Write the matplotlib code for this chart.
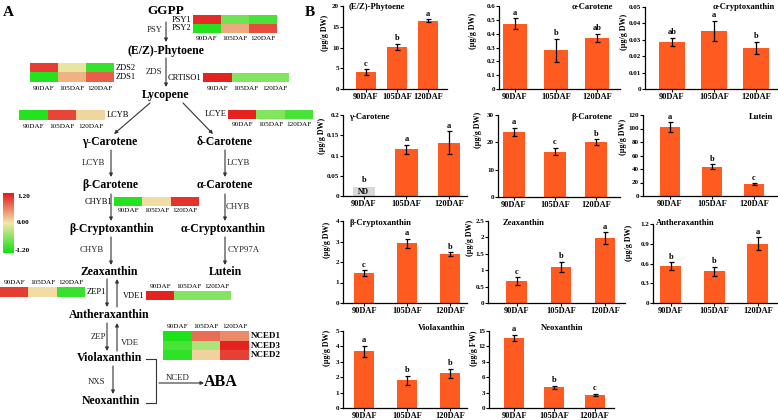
import numpy as np
import matplotlib
matplotlib.use('Agg')
import matplotlib.pyplot as plt
from matplotlib.colors import LinearSegmentedColormap
from matplotlib.ticker import FuncFormatter

plt.rcParams['font.family'] = ['Liberation Serif', 'DejaVu Serif']

W, H = 778, 420

# ------------------------------------------------------------------ data
stages = ['90DAF', '105DAF', '120DAF']

phytoene_mean = [4.0, 10.1, 16.5]
phytoene_err = [0.7, 0.8, 0.3]
phytoene_sig = ['c', 'b', 'a']

acarotene_mean = [0.472, 0.28, 0.37]
acarotene_err = [0.04, 0.085, 0.03]
acarotene_sig = ['a', 'b', 'ab']

acrypto_mean = [0.0287, 0.0354, 0.0252]
acrypto_err = [0.0027, 0.006, 0.0037]
acrypto_sig = ['ab', 'a', 'b']

gcarotene_mean = [0.0, 0.115, 0.132]
gcarotene_err = [0.0, 0.012, 0.028]
gcarotene_sig = ['b', 'a', 'a']
gcarotene_nd = [True, False, False]
nd_level = 0.022

bcarotene_mean = [23.8, 16.6, 20.1]
bcarotene_err = [1.6, 1.3, 1.0]
bcarotene_sig = ['a', 'c', 'b']

lutein_mean = [102.0, 43.0, 17.5]
lutein_err = [7.0, 3.7, 1.2]
lutein_sig = ['a', 'b', 'c']

bcrypto_mean = [1.45, 2.91, 2.37]
bcrypto_err = [0.15, 0.23, 0.1]
bcrypto_sig = ['c', 'a', 'b']

zeax_mean = [0.67, 1.1, 1.98]
zeax_err = [0.11, 0.15, 0.17]
zeax_sig = ['c', 'b', 'a']

anthera_mean = [0.56, 0.48, 0.9]
anthera_err = [0.06, 0.07, 0.1]
anthera_sig = ['b', 'b', 'a']

viola_mean = [3.67, 1.8, 2.25]
viola_err = [0.38, 0.28, 0.28]
viola_sig = ['a', 'b', 'b']

neo_mean = [13.6, 4.0, 2.5]
neo_err = [0.6, 0.35, 0.2]
neo_sig = ['a', 'b', 'c']

# heatmap expression values (z-scores, -1.2 .. 1.2)
heat_stages = ['90DAF', '105DAF', '120DAF']
psy_genes = ['PSY1', 'PSY2']
psy_vals = [[1.1, -0.7, -0.9], [-1.1, 0.35, 0.9]]
zds_genes = ['ZDS2', 'ZDS1']
zds_vals = [[1.0, -0.05, -1.0], [-1.1, 0.3, 0.8]]
crtiso_genes = ['CRTISO1']
crtiso_vals = [[1.15, -0.6, -0.6]]
lcyb_genes = ['LCYB']
lcyb_vals = [[-1.1, 0.95, 0.1]]
lcye_genes = ['LCYE']
lcye_vals = [[1.15, -0.6, -0.9]]
chyb1_genes = ['CHYB1']
chyb1_vals = [[-1.1, 0.05, 1.05]]
zep1_genes = ['ZEP1']
zep1_vals = [[1.0, 0.05, -1.0]]
vde1_genes = ['VDE1']
vde1_vals = [[1.15, -0.6, -0.6]]
nced_genes = ['NCED1', 'NCED3', 'NCED2']
nced_vals = [[-1.15, 0.72, 0.55], [-0.9, -0.38, 1.15], [-1.05, 0.12, 0.98]]

cbar_ticks = [1.2, 0.0, -1.2]

# ------------------------------------------------------------------ styles
BAR = '#ff5a1f'
ND_COL = '#d9d9d9'
cmap = LinearSegmentedColormap.from_list(
    'gyr', ['#14e214', '#f2e6aa', '#e41c1c'])
SERIF = ['Liberation Serif', 'DejaVu Serif']

fig = plt.figure(figsize=(W / 100, H / 100), dpi=100)

# ------------------------------------------------------------------ panel A (pixel coordinates)
ax0 = fig.add_axes([0, 0, 1, 1])
ax0.set_axis_off()


def txt(x, y, s, size=8.5, weight='bold', ha='center', va='center', color='black'):
    ax0.text(x, y, s, fontsize=size, fontweight=weight, ha=ha, va=va, color=color,
             family=SERIF)


def arrow(x0, y0, x1, y1):
    ax0.annotate('', xy=(x1, y1), xytext=(x0, y0),
                 arrowprops=dict(arrowstyle='-|>', color='#333333', lw=0.8,
                                 mutation_scale=5, shrinkA=0, shrinkB=0))


def heat(vals, genes, x0, x1, y0, y1, gene_side, daf_y, gene_bold=False, gene_size=6):
    v = np.array(vals)
    ax0.imshow(v, cmap=cmap, vmin=-1.2, vmax=1.2, extent=(x0, x1, y1, y0),
               aspect='auto', interpolation='nearest', zorder=2)
    nr, nc = v.shape
    rh = (y1 - y0) / nr
    cw = (x1 - x0) / nc
    for i, g in enumerate(genes):
        yy = y0 + rh * (i + 0.5)
        if gene_side == 'left':
            txt(x0 - 1.5, yy, g, size=gene_size, weight='bold' if gene_bold else 'normal', ha='right')
        else:
            txt(x1 + 1.5, yy, g, size=gene_size, weight='bold' if gene_bold else 'normal', ha='left')
    for j, s in enumerate(heat_stages):
        txt(x0 + cw * (j + 0.5), daf_y, s, size=5.2, weight='normal')


txt(3, 12, 'A', size=11, ha='left')
txt(305, 12, 'B', size=11, ha='left')

# compounds
txt(166, 11, 'GGPP', size=9.5)
txt(166, 51, '(E/Z)-Phytoene')
txt(166, 95, 'Lycopene')
txt(110, 142, 'γ-Carotene')
txt(225, 142, 'δ-Carotene')
txt(110, 185, 'β-Carotene')
txt(225, 185, 'α-Carotene')
txt(112, 229, 'β-Cryptoxanthin')
txt(223, 229, 'α-Cryptoxanthin')
txt(109, 272, 'Zeaxanthin')
txt(225, 272, 'Lutein')
txt(109, 315, 'Antheraxanthin')
txt(110, 358, 'Violaxanthin')
txt(111, 401, 'Neoxanthin')
txt(221, 382, 'ABA', size=11.5)

# enzymes
en = dict(size=6.3, weight='normal', color='#222222')
txt(155, 30, 'PSY', **en)
txt(154, 72, 'ZDS', **en)
txt(93, 163, 'LCYB', **en)
txt(238, 163, 'LCYB', **en)
txt(92, 250, 'CHYB', **en)
txt(238, 207, 'CHYB', **en)
txt(244, 250, 'CYP97A', **en)
txt(98, 337, 'ZEP', **en)
txt(130, 343, 'VDE', **en)
txt(96, 382, 'NXS', **en)
txt(178, 378, 'NCED', **en)

# arrows
arrow(166, 22, 166, 42)
arrow(166, 58, 166, 87)
arrow(150, 103, 114, 134)
arrow(183, 103, 213, 134)
arrow(111, 150, 111, 177)
arrow(225, 150, 225, 177)
arrow(111, 194, 111, 221)
arrow(225, 194, 225, 221)
arrow(111, 237, 111, 265)
arrow(225, 237, 225, 265)
arrow(107, 279, 107, 307)
arrow(117, 307, 117, 279)
arrow(107, 323, 107, 351)
arrow(117, 351, 117, 323)
arrow(113, 366, 113, 394)
ax0.plot([146, 156, 156, 146], [359, 359, 403, 403], color='#333333', lw=0.8)
arrow(159, 383, 204, 383)

# heatmaps
heat(psy_vals, psy_genes, 193, 277, 15, 33, 'left', 39)
heat(zds_vals, zds_genes, 30, 114, 63, 82, 'right', 89)
heat(crtiso_vals, crtiso_genes, 203, 289, 73, 82, 'left', 88)
heat(lcyb_vals, lcyb_genes, 19, 105, 110, 120, 'right', 127)
heat(lcye_vals, lcye_genes, 228, 313, 110, 119, 'left', 124)
heat(chyb1_vals, chyb1_genes, 114, 199, 197, 206, 'left', 211)
heat(zep1_vals, zep1_genes, 0, 85, 287, 297, 'right', 283)
heat(vde1_vals, vde1_genes, 146, 231, 291, 300, 'left', 286)
heat(nced_vals, nced_genes, 163, 249, 331, 360, 'right', 327, gene_bold=True, gene_size=6.5)

# colour bar
grad = np.linspace(1.2, -1.2, 100).reshape(-1, 1)
ax0.imshow(grad, cmap=cmap, vmin=-1.2, vmax=1.2, extent=(3, 14, 253, 193),
           aspect='auto', zorder=2)
for t in cbar_ticks:
    yy = 193 + (1.2 - t) / 2.4 * 60
    txt(17 if t >= 0 else 15, yy + (3 if t == 1.2 else (-2 if t == -1.2 else 0)),
        '%.2f' % t, size=5.2, ha='left')

ax0.set_xlim(0, W)
ax0.set_ylim(H, 0)


# ------------------------------------------------------------------ panel B
def bar_panel(rect, mean, err, sig, ylim, yticks, xlim, width, title, title_xy,
              title_ha, ylabel, ylabel_xy, nd=None):
    l, t, r, b = rect
    ax = fig.add_axes([l / W, 1 - b / H, (r - l) / W, (b - t) / H])
    ax.set_facecolor('none')
    x = np.arange(len(stages))
    mean = np.array(mean, float)
    err = np.array(err, float)
    nd = np.array(nd if nd is not None else [False] * len(stages))
    heights = np.where(nd, nd_level, mean)
    colors = [ND_COL if n else BAR for n in nd]
    ax.bar(x, heights, width, color=colors, edgecolor='none', zorder=2)
    ok = ~nd
    ax.errorbar(x[ok], mean[ok], yerr=err[ok], fmt='none', ecolor='black',
                elinewidth=0.9, capsize=1.8, capthick=0.9, zorder=3)
    for i in range(len(stages)):
        top = nd_level if nd[i] else mean[i] + err[i]
        ax.annotate(sig[i], (x[i], top), xytext=(0, 2.2 if nd[i] else 1.2),
                    textcoords='offset points', ha='center', va='bottom',
                    fontsize=6, fontweight='bold', family=SERIF)
        if nd[i]:
            ax.text(x[i], nd_level / 2, 'ND', ha='center', va='center',
                    fontsize=5.5, fontweight='bold', family=SERIF)
    ax.set_xlim(*xlim)
    ax.set_ylim(*ylim)
    ax.set_yticks(yticks)
    ax.yaxis.set_major_formatter(FuncFormatter(lambda v, p: '%g' % v))
    ax.set_xticks(x)
    ax.set_xticklabels(stages)
    for s in ['top', 'right']:
        ax.spines[s].set_visible(False)
    for s in ['left', 'bottom']:
        ax.spines[s].set_linewidth(0.9)
    ax.tick_params(axis='both', direction='out', length=2.0, width=0.8)
    ax.tick_params(axis='y', labelsize=5.0, pad=0.8)
    ax.tick_params(axis='x', labelsize=6.0, pad=1.2)
    for lab in ax.get_xticklabels() + ax.get_yticklabels():
        lab.set_fontweight('bold')
        lab.set_family(SERIF)
    fig.text(title_xy[0] / W, 1 - title_xy[1] / H, title, ha=title_ha, va='center',
             fontsize=6.2, fontweight='bold', family=SERIF)
    fig.text(ylabel_xy[0] / W, 1 - ylabel_xy[1] / H, ylabel, ha='center', va='center',
             rotation=90, fontsize=5.8, fontweight='bold', family=SERIF)
    return ax


DW = '(μg/g DW)'
FW = '(μg/g FW)'

bar_panel((343, 6, 447, 89), phytoene_mean, phytoene_err, phytoene_sig, (0, 20),
          [0, 5, 10, 15, 20], (-0.74, 2.61), 0.64, '(E/Z)-Phytoene', (349, 7), 'left',
          DW, (325, 33))
bar_panel((499, 6, 620, 89), acarotene_mean, acarotene_err, acarotene_sig, (0, 0.6),
          [0, 0.1, 0.2, 0.3, 0.4, 0.5, 0.6], (-0.39, 2.56), 0.6, 'α-Carotene', (613, 7),
          'right', DW, (473, 31))
bar_panel((645, 7, 777, 89), acrypto_mean, acrypto_err, acrypto_sig, (0, 0.05),
          [0, 0.01, 0.02, 0.03, 0.04, 0.05], (-0.64, 2.5), 0.6, 'α-Cryptoxanthin',
          (775, 7), 'right', DW, (624, 32))

bar_panel((343, 115, 467, 196), gcarotene_mean, gcarotene_err, gcarotene_sig, (0, 0.2),
          [0, 0.05, 0.1, 0.15, 0.2], (-0.49, 2.42), 0.52, 'γ-Carotene', (349, 117), 'left',
          DW, (322, 136), nd=gcarotene_nd)
bar_panel((498, 115, 620, 197), bcarotene_mean, bcarotene_err, bcarotene_sig, (0, 30),
          [0, 10, 20, 30], (-0.39, 2.59), 0.54, 'β-Carotene', (612, 117), 'right',
          DW, (478, 130))
bar_panel((643, 115, 777, 196), lutein_mean, lutein_err, lutein_sig, (0, 120),
          [0, 20, 40, 60, 80, 100, 120], (-0.64, 2.55), 0.48, 'Lutein', (773, 117),
          'right', DW, (623, 137))

bar_panel((343, 221, 467, 303), bcrypto_mean, bcrypto_err, bcrypto_sig, (0, 4),
          [0, 1, 2, 3, 4], (-0.49, 2.4), 0.48, 'β-Cryptoxanthin', (350, 223), 'left',
          DW, (327, 240))
bar_panel((488, 221, 625, 303), zeax_mean, zeax_err, zeax_sig, (0, 2.5),
          [0, 0.5, 1, 1.5, 2, 2.5], (-0.65, 2.45), 0.47, 'Zeaxanthin', (503, 223), 'left',
          DW, (470, 238))
bar_panel((653, 224, 777, 303), anthera_mean, anthera_err, anthera_sig, (0, 1.2),
          [0, 0.3, 0.6, 0.9, 1.2], (-0.41, 2.44), 0.48, 'Antheraxanthin', (656, 223),
          'left', DW, (629, 243))

bar_panel((343, 331, 467, 408), viola_mean, viola_err, viola_sig, (0, 5),
          [0, 1, 2, 3, 4, 5], (-0.49, 2.4), 0.47, 'Violaxanthin', (465, 328), 'right',
          DW, (327, 348))
bar_panel((489, 331, 614, 408), neo_mean, neo_err, neo_sig, (0, 15),
          [0, 3, 6, 9, 12, 15], (-0.62, 2.48), 0.5, 'Neoxanthin', (541, 328), 'left',
          FW, (474, 348))

fig.savefig('out.png', dpi=100)
